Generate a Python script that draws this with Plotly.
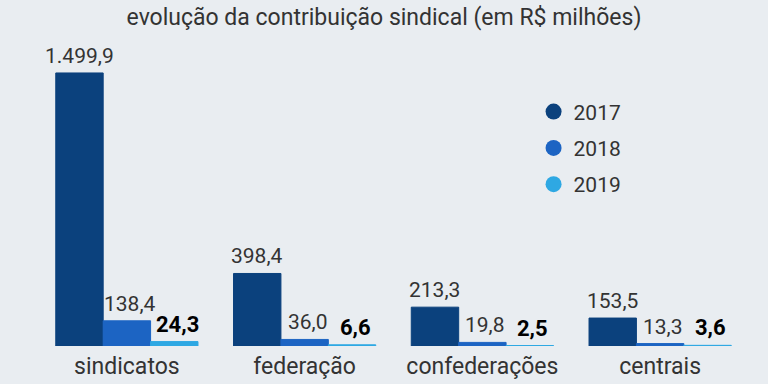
import plotly.graph_objects as go

categories = ["sindicatos", "federação", "confederações", "centrais"]
years = ["2017", "2018", "2019"]
values_2017 = [1499.9, 398.4, 213.3, 153.5]
values_2018 = [138.4, 36.0, 19.8, 13.3]
values_2019 = [24.3, 6.6, 2.5, 3.6]
series = [values_2017, values_2018, values_2019]
colors = ["#0b417d", "#1c64c3", "#2ea8e3"]

def fmt(v):
    s = f"{v:,.1f}"
    return s.replace(",", "X").replace(".", ",").replace("X", ".")

W, H = 768, 384
ml, mr, mt, mb = 38, 19, 50, 38
plot_w = W - ml - mr
bargap = 0.2
bar_px = plot_w / len(categories) * (1 - bargap) / len(years)

fig = go.Figure()
for i, (yr, vals, col) in enumerate(zip(years, series, colors)):
    fig.add_trace(go.Bar(
        x=categories, y=vals, name=yr, marker=dict(color=col, line=dict(color=col, width=1)),
        showlegend=False, hoverinfo="skip"))
    fig.add_trace(go.Scatter(
        x=[None], y=[None], mode="markers", name=yr, legendgroup=yr,
        marker=dict(color=col, size=22, symbol="circle")))

annotations = []
for i, vals in enumerate(series):
    bold = i == 2
    for cat, v in zip(categories, vals):
        annotations.append(dict(
            x=cat, y=v, xref="x", yref="y", text=(f"<b>{fmt(v)}</b>" if bold else fmt(v)),
            showarrow=False, yanchor="bottom", xanchor="center",
            xshift=(i - 1) * bar_px + (3 if i > 0 else 0), yshift=3,
            font=dict(family="Roboto", size=22 if bold else 21,
                      color="#000000" if bold else "#333333")))

fig.update_layout(
    width=W, height=H,
    margin=dict(l=ml, r=mr, t=mt, b=mb),
    paper_bgcolor="#e9edf1", plot_bgcolor="#e9edf1",
    barmode="group", bargap=bargap, bargroupgap=0,
    title=dict(text="evolução da contribuição sindical (em R$ milhões)",
               x=0.5, xanchor="center", y=0.955, yanchor="middle",
               font=dict(family="Roboto", size=23, color="#333333")),
    xaxis=dict(showgrid=False, showline=False, zeroline=False, ticks="",
               ticklabelstandoff=4, automargin=False,
               tickfont=dict(family="Roboto", size=23, color="#333333")),
    yaxis=dict(range=[0, 1626], showgrid=False, showline=False, zeroline=False,
               showticklabels=False, ticks="", automargin=False),
    legend=dict(x=0.697, y=0.86, xanchor="left", yanchor="top",
                font=dict(family="Roboto", size=21, color="#333333"),
                bgcolor="rgba(0,0,0,0)", tracegroupgap=6),
    annotations=annotations,
    showlegend=True,
)

fig.write_html("out.html", config={"displayModeBar": False},
               post_script="document.body.style.margin='0';document.body.style.overflow='hidden';")
